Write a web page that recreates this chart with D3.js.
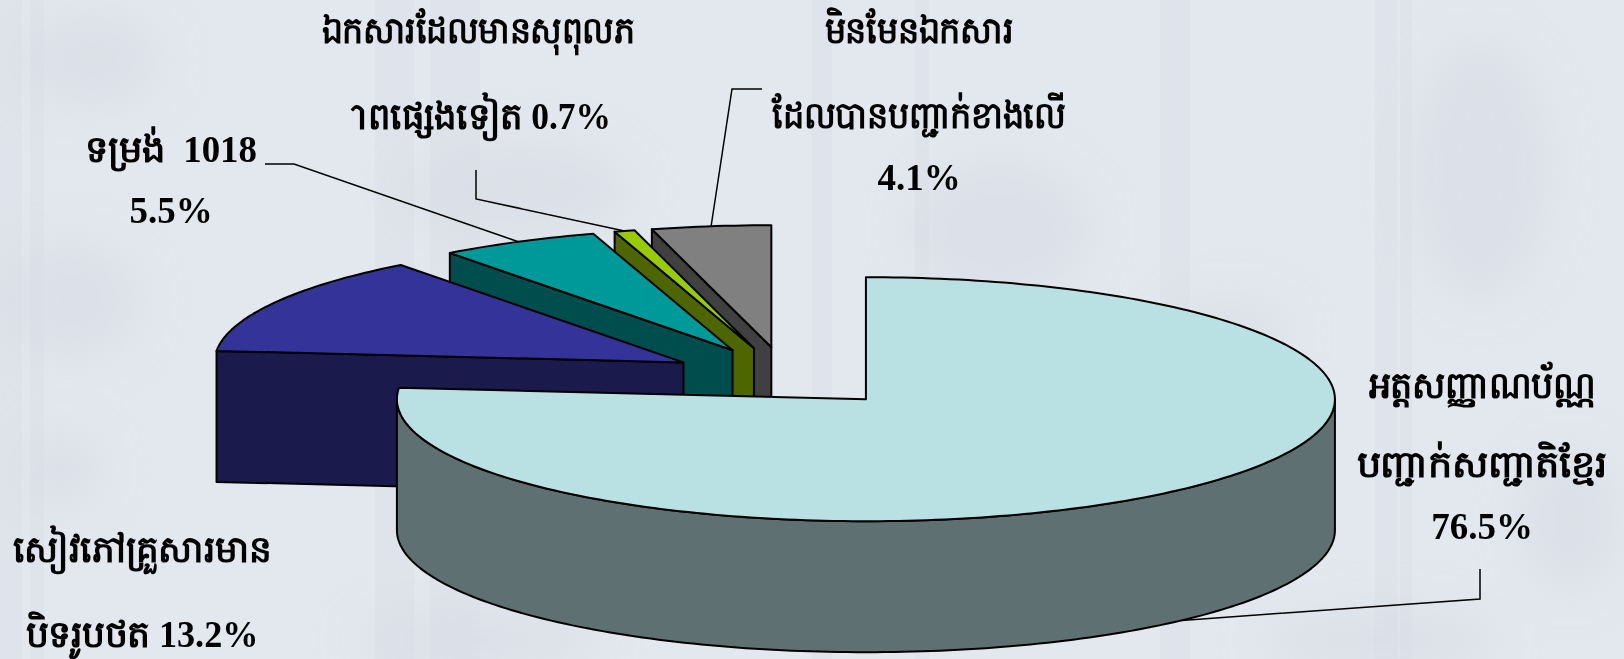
<!DOCTYPE html>
<html>
<head>
<meta charset="utf-8">
<style>
  html, body { margin: 0; padding: 0; background: #e3e7ee; overflow: hidden; }
  svg { display: block; }
  text { font-family: "Liberation Serif", serif; font-weight: bold; fill: #000; text-anchor: middle; white-space: pre; }
</style>
</head>
<body>
<svg id="chart" width="1624" height="659"></svg>
<script src="https://cdn.jsdelivr.net/npm/d3@7"></script>
<script>
const categories = ["national-id", "family-book", "form-1018", "other-valid", "not-a-document"];
const values = [76.5, 13.2, 5.5, 0.7, 4.1];
const topColors = ["#b9e0e3", "#333399", "#009999", "#99cc00", "#808080"];
const wallColors = ["#5f7073", "#1a1a4d", "#004d4d", "#4d6600", "#404040"];

const labelLines = [
    ["អត្តសញ្ញាណប័ណ្ណ", "បញ្ជាក់សញ្ជាតិខ្មែរ", "76.5%"],
    ["សៀវភៅគ្រួសារមាន", "បិទរូបថត 13.2%"],
    ["ទម្រង់  1018", "5.5%"],
    ["ឯកសារដែលមានសុពុលភ", "\u00a0ាពផ្សេងទៀត 0.7%"],
    ["មិនមែនឯកសារ", "ដែលបានបញ្ជាក់ខាងលើ", "4.1%"]
];
// centre x and one baseline per line
const labelX = [1482, 142, 171, 478, 919];
const labelY = [[398, 477, 539], [562, 647], [162, 223], [43, 129], [43, 128, 190]];
// label widths, the khmer lines have to fit them
const labelW = [[227, 251, 0], [259, 233], [172, 0], [313, 266], [189, 294, 0]];
// leader elbows, the last point comes from the slice itself
const leaderElbows = [
    [[1480, 569], [1480, 599]],
    null,
    [[265, 164], [294, 164]],
    [[476, 170], [476, 199]],
    [[762, 89], [732, 89]]
];

// faint background bands and map blotches
const bandX = [0, 30, 375, 430, 812, 915, 1160, 1375, 1400];
const bandW = [22, 14, 40, 50, 20, 14, 30, 22, 12];
const blotches = [[90, 60, 70, 50], [520, 190, 110, 50], [1000, 230, 90, 70], [1230, 330, 60, 30],
    [1480, 170, 70, 130], [70, 300, 70, 60], [1380, 640, 120, 30],
    [60, 470, 40, 40], [480, 640, 120, 30], [1570, 520, 50, 70]];

const width = 1624, height = 659;
const rx = 469, ry = 122, depth = 131;
const cx = 786.5, cy = 377;
const explodeX = 118, explodeY = 30;

const svg = d3.select("#chart");

// background
const defs = svg.append("defs");
defs.append("filter").attr("id", "soft").append("feGaussianBlur").attr("stdDeviation", 22);
svg.append("rect").attr("width", width).attr("height", height).attr("fill", "#e3e7ee");
const bg = svg.append("g").attr("filter", "url(#soft)");
bg.selectAll(".blotch").data(blotches).join("ellipse")
    .attr("class", "blotch")
    .attr("cx", d => d[0]).attr("cy", d => d[1])
    .attr("rx", d => d[2]).attr("ry", d => d[3])
    .attr("fill", "#d3d9e3").attr("opacity", 0.45);
svg.selectAll(".band").data(bandX).join("rect")
    .attr("class", "band")
    .attr("x", d => d).attr("y", 0)
    .attr("width", (d, i) => bandW[i]).attr("height", height)
    .attr("fill", "#d6dde6").attr("opacity", 0.35);

// pie angles, clockwise from 12 o'clock
const pie = d3.pie().sort(null).value(d => d).startAngle(0).endAngle(2 * Math.PI);
const slices = pie(values).map((s, i) => {
    const mid = (s.startAngle + s.endAngle) / 2;
    return {
        ...s, i,
        mid,
        x0: cx + explodeX * Math.sin(mid),
        y0: cy - explodeY * Math.cos(mid)
    };
});

const rim = (s, a, down) => [s.x0 + rx * Math.sin(a), s.y0 - ry * Math.cos(a) + (down || 0)];

function rimPoints(s, a0, a1, down) {
    const n = Math.max(2, Math.ceil((a1 - a0) / 0.02));
    return d3.range(n + 1).map(k => rim(s, a0 + (a1 - a0) * k / n, down));
}

const line = d3.line();

function wallPath(s) {
    // the face that looks at the viewer: start cut for the small slices,
    // front of the rim for the big one
    if (s.i === 0) {
        const a0 = Math.PI / 2, a1 = Math.PI * 1.5;
        return line(rimPoints(s, a0, a1).concat(rimPoints(s, a0, a1, depth).reverse())) + "Z";
    }
    const p = rim(s, s.startAngle);
    return line([[s.x0, s.y0], p, [p[0], p[1] + depth], [s.x0, s.y0 + depth]]) + "Z";
}

function topPath(s) {
    return line([[s.x0, s.y0]].concat(rimPoints(s, s.startAngle, s.endAngle))) + "Z";
}

// back to front: grey first, the big slice last
const order = [4, 3, 2, 1, 0].map(i => slices[i]);
const parts = svg.selectAll(".slice").data(order).join("g").attr("class", "slice");
parts.append("path")
    .attr("d", wallPath)
    .attr("fill", d => wallColors[d.i])
    .attr("stroke", "#000").attr("stroke-width", 2).attr("stroke-linejoin", "round");
parts.append("path")
    .attr("d", topPath)
    .attr("fill", d => topColors[d.i])
    .attr("stroke", "#000").attr("stroke-width", 2).attr("stroke-linejoin", "round");

// leaders
svg.selectAll(".leader").data(slices.filter(s => leaderElbows[s.i])).join("path")
    .attr("class", "leader")
    .attr("fill", "none").attr("stroke", "#000").attr("stroke-width", 1.5)
    .attr("d", s => line(leaderElbows[s.i].concat([rim(s, s.mid, s.i === 0 ? depth : 0)])));

// labels
labelLines.forEach((lines, i) => {
    svg.selectAll(".label" + i).data(lines).join("text")
        .attr("class", "label" + i)
        .attr("x", labelX[i])
        .attr("y", (d, j) => labelY[i][j])
        .attr("font-size", 37)
        .attr("textLength", (d, j) => labelW[i][j] || null)
        .attr("lengthAdjust", "spacingAndGlyphs")
        .text(d => d);
});
</script>
</body>
</html>
